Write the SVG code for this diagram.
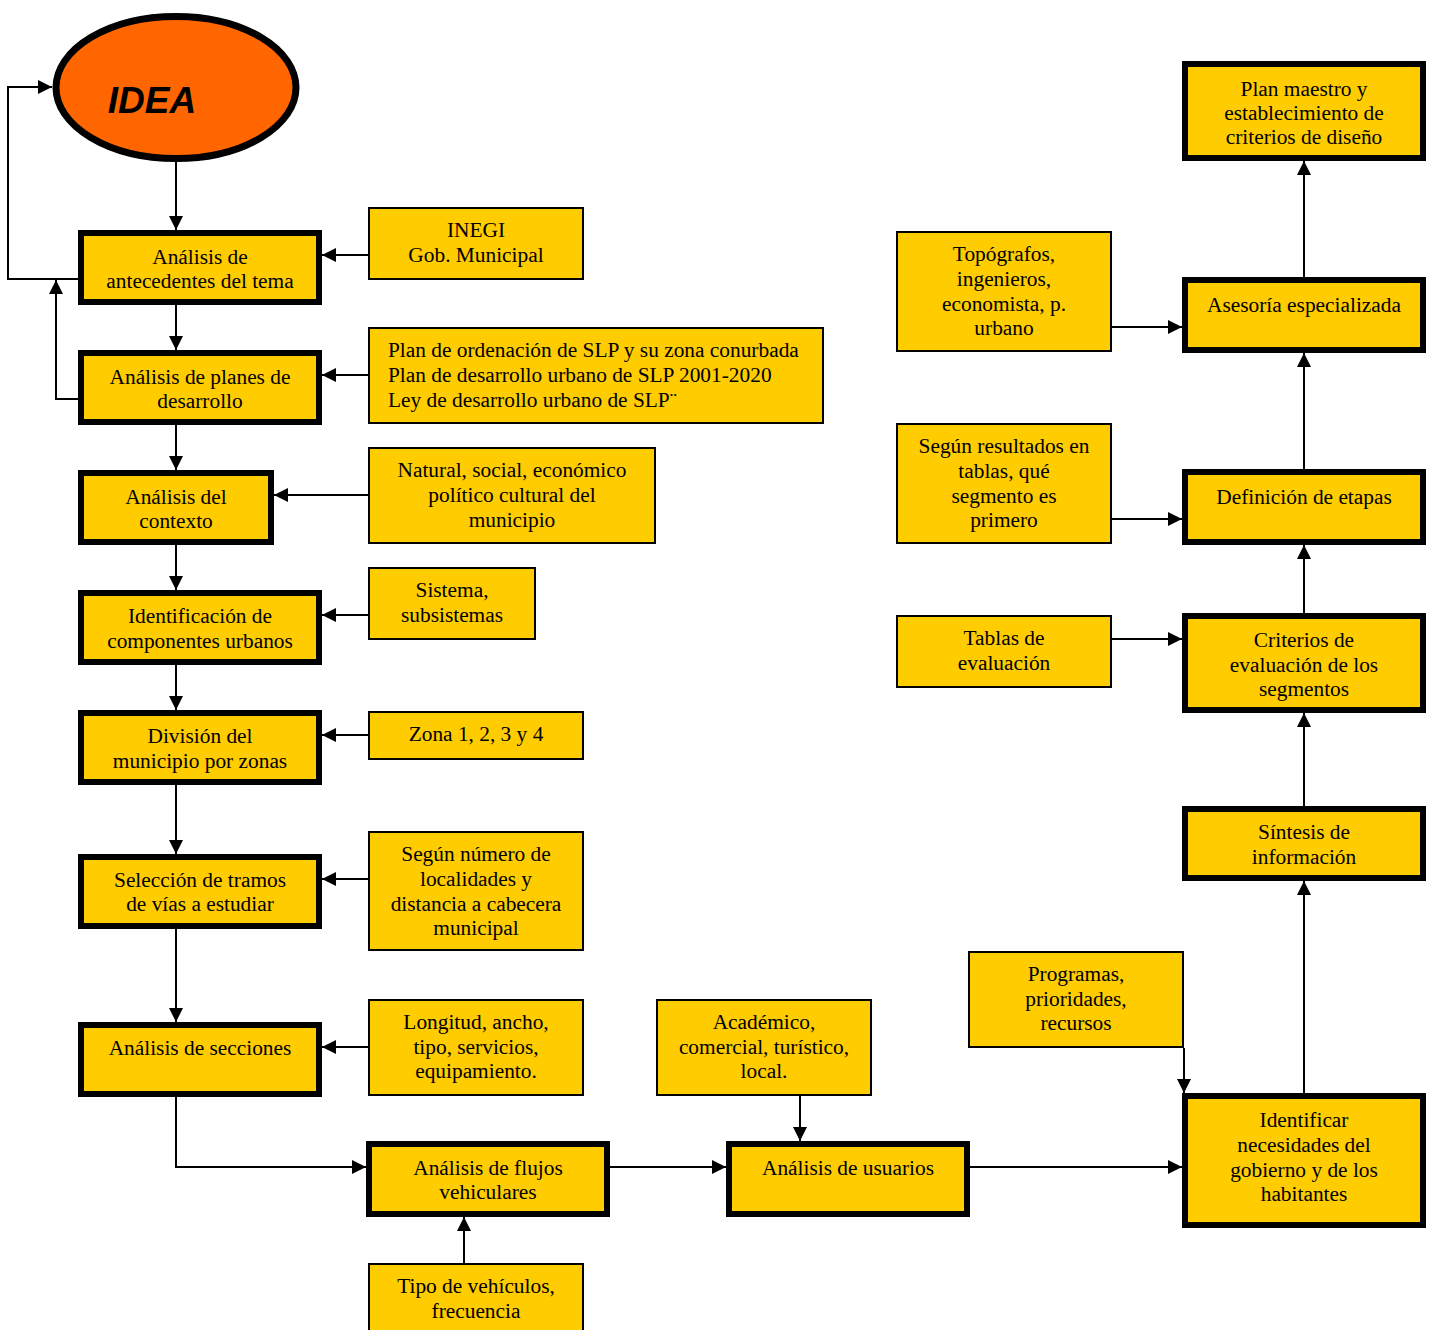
<svg xmlns="http://www.w3.org/2000/svg" width="1433" height="1330" viewBox="0 0 1433 1330">
<style>
.m{fill:#FFCC00;stroke:#000;stroke-width:6}
.s{fill:#FFCC00;stroke:#000;stroke-width:2}
.t{font-family:"Liberation Serif","Times New Roman",serif;font-size:20px;text-anchor:middle;fill:#000}
.l{text-anchor:start}
.c{fill:none;stroke:#000;stroke-width:2}
</style>
<defs>
<marker id="a" markerUnits="userSpaceOnUse" markerWidth="14" markerHeight="14" refX="14" refY="7" orient="auto">
<path d="M0,0 L14,7 L0,14 z" fill="#000"/>
</marker>
</defs>
<rect width="1433" height="1330" fill="#fff"/>
<g id="connectors">
<path class="c" marker-end="url(#a)" d="M176,162 V230"/>
<path class="c" marker-end="url(#a)" d="M78,279 H8 V87 H52"/>
<path class="c" marker-end="url(#a)" d="M78,399 H56 V280"/>
<path class="c" marker-end="url(#a)" d="M176,305 V350"/>
<path class="c" marker-end="url(#a)" d="M176,425 V470"/>
<path class="c" marker-end="url(#a)" d="M176,545 V590"/>
<path class="c" marker-end="url(#a)" d="M176,665 V710"/>
<path class="c" marker-end="url(#a)" d="M176,785 V854"/>
<path class="c" marker-end="url(#a)" d="M176,929 V1022"/>
<path class="c" marker-end="url(#a)" d="M176,1097 V1167 H366"/>
<path class="c" marker-end="url(#a)" d="M610,1167 H726"/>
<path class="c" marker-end="url(#a)" d="M970,1167 H1182"/>
<path class="c" marker-end="url(#a)" d="M800,1096 V1141"/>
<path class="c" marker-end="url(#a)" d="M1184,1048 V1093"/>
<path class="c" marker-end="url(#a)" d="M464,1263 V1217"/>
<path class="c" marker-end="url(#a)" d="M1304,1093 V881"/>
<path class="c" marker-end="url(#a)" d="M1304,806 V713"/>
<path class="c" marker-end="url(#a)" d="M1304,613 V545"/>
<path class="c" marker-end="url(#a)" d="M1304,469 V353"/>
<path class="c" marker-end="url(#a)" d="M1304,277 V161"/>
<path class="c" marker-end="url(#a)" d="M1112,327 H1182"/>
<path class="c" marker-end="url(#a)" d="M1112,519 H1182"/>
<path class="c" marker-end="url(#a)" d="M1112,639 H1182"/>
<path class="c" marker-end="url(#a)" d="M368,255 H322"/>
<path class="c" marker-end="url(#a)" d="M368,375 H322"/>
<path class="c" marker-end="url(#a)" d="M368,495 H274"/>
<path class="c" marker-end="url(#a)" d="M368,615 H322"/>
<path class="c" marker-end="url(#a)" d="M368,735 H322"/>
<path class="c" marker-end="url(#a)" d="M368,879 H322"/>
<path class="c" marker-end="url(#a)" d="M368,1047 H322"/>
</g>
<g id="idea">
<ellipse cx="176" cy="87.5" rx="120" ry="71" fill="#FF6600" stroke="#000" stroke-width="7"/>
<text x="152" y="113" font-family="'Liberation Sans',Arial,sans-serif" font-size="37" font-weight="bold" font-style="italic" text-anchor="middle">IDEA</text>
</g>
<g id="antecedentes"><rect class="m" x="81" y="233" width="238" height="69"/><text class="t" transform="matrix(1.068,0,0,1,-13.6,0)"><tspan x="200" y="264">Análisis de</tspan><tspan x="200" y="288">antecedentes del tema</tspan></text></g>
<g id="planes"><rect class="m" x="81" y="353" width="238" height="69"/><text class="t" transform="matrix(1.068,0,0,1,-13.6,0)"><tspan x="200" y="384">Análisis de planes de</tspan><tspan x="200" y="408">desarrollo</tspan></text></g>
<g id="contexto"><rect class="m" x="81" y="473" width="190" height="69"/><text class="t" transform="matrix(1.068,0,0,1,-11.968,0)"><tspan x="176" y="504">Análisis del</tspan><tspan x="176" y="528">contexto</tspan></text></g>
<g id="componentes"><rect class="m" x="81" y="593" width="238" height="69"/><text class="t" transform="matrix(1.068,0,0,1,-13.6,0)"><tspan x="200" y="623">Identificación de</tspan><tspan x="200" y="648">componentes urbanos</tspan></text></g>
<g id="division"><rect class="m" x="81" y="713" width="238" height="69"/><text class="t" transform="matrix(1.068,0,0,1,-13.6,0)"><tspan x="200" y="743">División del</tspan><tspan x="200" y="768">municipio por zonas</tspan></text></g>
<g id="seleccion"><rect class="m" x="81" y="857" width="238" height="69"/><text class="t" transform="matrix(1.068,0,0,1,-13.6,0)"><tspan x="200" y="887">Selección de tramos</tspan><tspan x="200" y="911">de vías a estudiar</tspan></text></g>
<g id="secciones"><rect class="m" x="81" y="1025" width="238" height="69"/><text class="t" transform="matrix(1.068,0,0,1,-13.6,0)"><tspan x="200" y="1055">Análisis de secciones</tspan></text></g>
<g id="flujos"><rect class="m" x="369" y="1144" width="238" height="70"/><text class="t" transform="matrix(1.068,0,0,1,-33.184,0)"><tspan x="488" y="1175">Análisis de flujos</tspan><tspan x="488" y="1199">vehiculares</tspan></text></g>
<g id="usuarios"><rect class="m" x="729" y="1144" width="238" height="70"/><text class="t" transform="matrix(1.068,0,0,1,-57.664,0)"><tspan x="848" y="1175">Análisis de usuarios</tspan></text></g>
<g id="necesidades"><rect class="m" x="1185" y="1096" width="238" height="129"/><text class="t" transform="matrix(1.068,0,0,1,-88.672,0)"><tspan x="1304" y="1127">Identificar</tspan><tspan x="1304" y="1152">necesidades del</tspan><tspan x="1304" y="1177">gobierno y de los</tspan><tspan x="1304" y="1201">habitantes</tspan></text></g>
<g id="sintesis"><rect class="m" x="1185" y="809" width="238" height="69"/><text class="t" transform="matrix(1.068,0,0,1,-88.672,0)"><tspan x="1304" y="839">Síntesis de</tspan><tspan x="1304" y="864">información</tspan></text></g>
<g id="criterios"><rect class="m" x="1185" y="616" width="238" height="94"/><text class="t" transform="matrix(1.068,0,0,1,-88.672,0)"><tspan x="1304" y="647">Criterios de</tspan><tspan x="1304" y="672">evaluación de los</tspan><tspan x="1304" y="696">segmentos</tspan></text></g>
<g id="etapas"><rect class="m" x="1185" y="472" width="238" height="70"/><text class="t" transform="matrix(1.068,0,0,1,-88.672,0)"><tspan x="1304" y="504">Definición de etapas</tspan></text></g>
<g id="asesoria"><rect class="m" x="1185" y="280" width="238" height="70"/><text class="t" transform="matrix(1.068,0,0,1,-88.672,0)"><tspan x="1304" y="312">Asesoría especializada</tspan></text></g>
<g id="planmaestro"><rect class="m" x="1185" y="64" width="238" height="94"/><text class="t" transform="matrix(1.068,0,0,1,-88.672,0)"><tspan x="1304" y="96">Plan maestro y</tspan><tspan x="1304" y="120">establecimiento de</tspan><tspan x="1304" y="144">criterios de diseño</tspan></text></g>
<g id="inegi"><rect class="s" x="369" y="208" width="214" height="71"/><text class="t" transform="matrix(1.068,0,0,1,-32.368,0)"><tspan x="476" y="237">INEGI</tspan><tspan x="476" y="262">Gob. Municipal</tspan></text></g>
<g id="planesfuente"><rect class="s" x="369" y="328" width="454" height="95"/><text class="t l" transform="matrix(1.068,0,0,1,-26.384,0)"><tspan x="388" y="357">Plan de ordenación de SLP y su zona conurbada</tspan><tspan x="388" y="382">Plan de desarrollo urbano de SLP 2001-2020</tspan><tspan x="388" y="407">Ley de desarrollo urbano de SLP¨</tspan></text></g>
<g id="natural"><rect class="s" x="369" y="448" width="286" height="95"/><text class="t" transform="matrix(1.068,0,0,1,-34.816,0)"><tspan x="512" y="477">Natural, social, económico</tspan><tspan x="512" y="502">político cultural del</tspan><tspan x="512" y="527">municipio</tspan></text></g>
<g id="sistema"><rect class="s" x="369" y="568" width="166" height="71"/><text class="t" transform="matrix(1.068,0,0,1,-30.736,0)"><tspan x="452" y="597">Sistema,</tspan><tspan x="452" y="622">subsistemas</tspan></text></g>
<g id="zona"><rect class="s" x="369" y="712" width="214" height="47"/><text class="t" transform="matrix(1.068,0,0,1,-32.368,0)"><tspan x="476" y="741">Zona 1, 2, 3 y 4</tspan></text></g>
<g id="segunnumero"><rect class="s" x="369" y="832" width="214" height="118"/><text class="t" transform="matrix(1.068,0,0,1,-32.368,0)"><tspan x="476" y="861">Según número de</tspan><tspan x="476" y="886">localidades y</tspan><tspan x="476" y="911">distancia a cabecera</tspan><tspan x="476" y="935">municipal</tspan></text></g>
<g id="longitud"><rect class="s" x="369" y="1000" width="214" height="95"/><text class="t" transform="matrix(1.068,0,0,1,-32.368,0)"><tspan x="476" y="1029">Longitud, ancho,</tspan><tspan x="476" y="1054">tipo, servicios,</tspan><tspan x="476" y="1078">equipamiento.</tspan></text></g>
<g id="tipo"><rect class="s" x="369" y="1264" width="214" height="80"/><text class="t" transform="matrix(1.068,0,0,1,-32.368,0)"><tspan x="476" y="1293">Tipo de vehículos,</tspan><tspan x="476" y="1318">frecuencia</tspan></text></g>
<g id="academico"><rect class="s" x="657" y="1000" width="214" height="95"/><text class="t" transform="matrix(1.068,0,0,1,-51.952,0)"><tspan x="764" y="1029">Académico,</tspan><tspan x="764" y="1054">comercial, turístico,</tspan><tspan x="764" y="1078">local.</tspan></text></g>
<g id="programas"><rect class="s" x="969" y="952" width="214" height="95"/><text class="t" transform="matrix(1.068,0,0,1,-73.168,0)"><tspan x="1076" y="981">Programas,</tspan><tspan x="1076" y="1006">prioridades,</tspan><tspan x="1076" y="1030">recursos</tspan></text></g>
<g id="tablas"><rect class="s" x="897" y="616" width="214" height="71"/><text class="t" transform="matrix(1.068,0,0,1,-68.272,0)"><tspan x="1004" y="645">Tablas de</tspan><tspan x="1004" y="670">evaluación</tspan></text></g>
<g id="segunresultados"><rect class="s" x="897" y="424" width="214" height="119"/><text class="t" transform="matrix(1.068,0,0,1,-68.272,0)"><tspan x="1004" y="453">Según resultados en</tspan><tspan x="1004" y="478">tablas, qué</tspan><tspan x="1004" y="503">segmento es</tspan><tspan x="1004" y="527">primero</tspan></text></g>
<g id="topografos"><rect class="s" x="897" y="232" width="214" height="119"/><text class="t" transform="matrix(1.068,0,0,1,-68.272,0)"><tspan x="1004" y="261">Topógrafos,</tspan><tspan x="1004" y="286">ingenieros,</tspan><tspan x="1004" y="311">economista, p.</tspan><tspan x="1004" y="335">urbano</tspan></text></g>
</svg>
